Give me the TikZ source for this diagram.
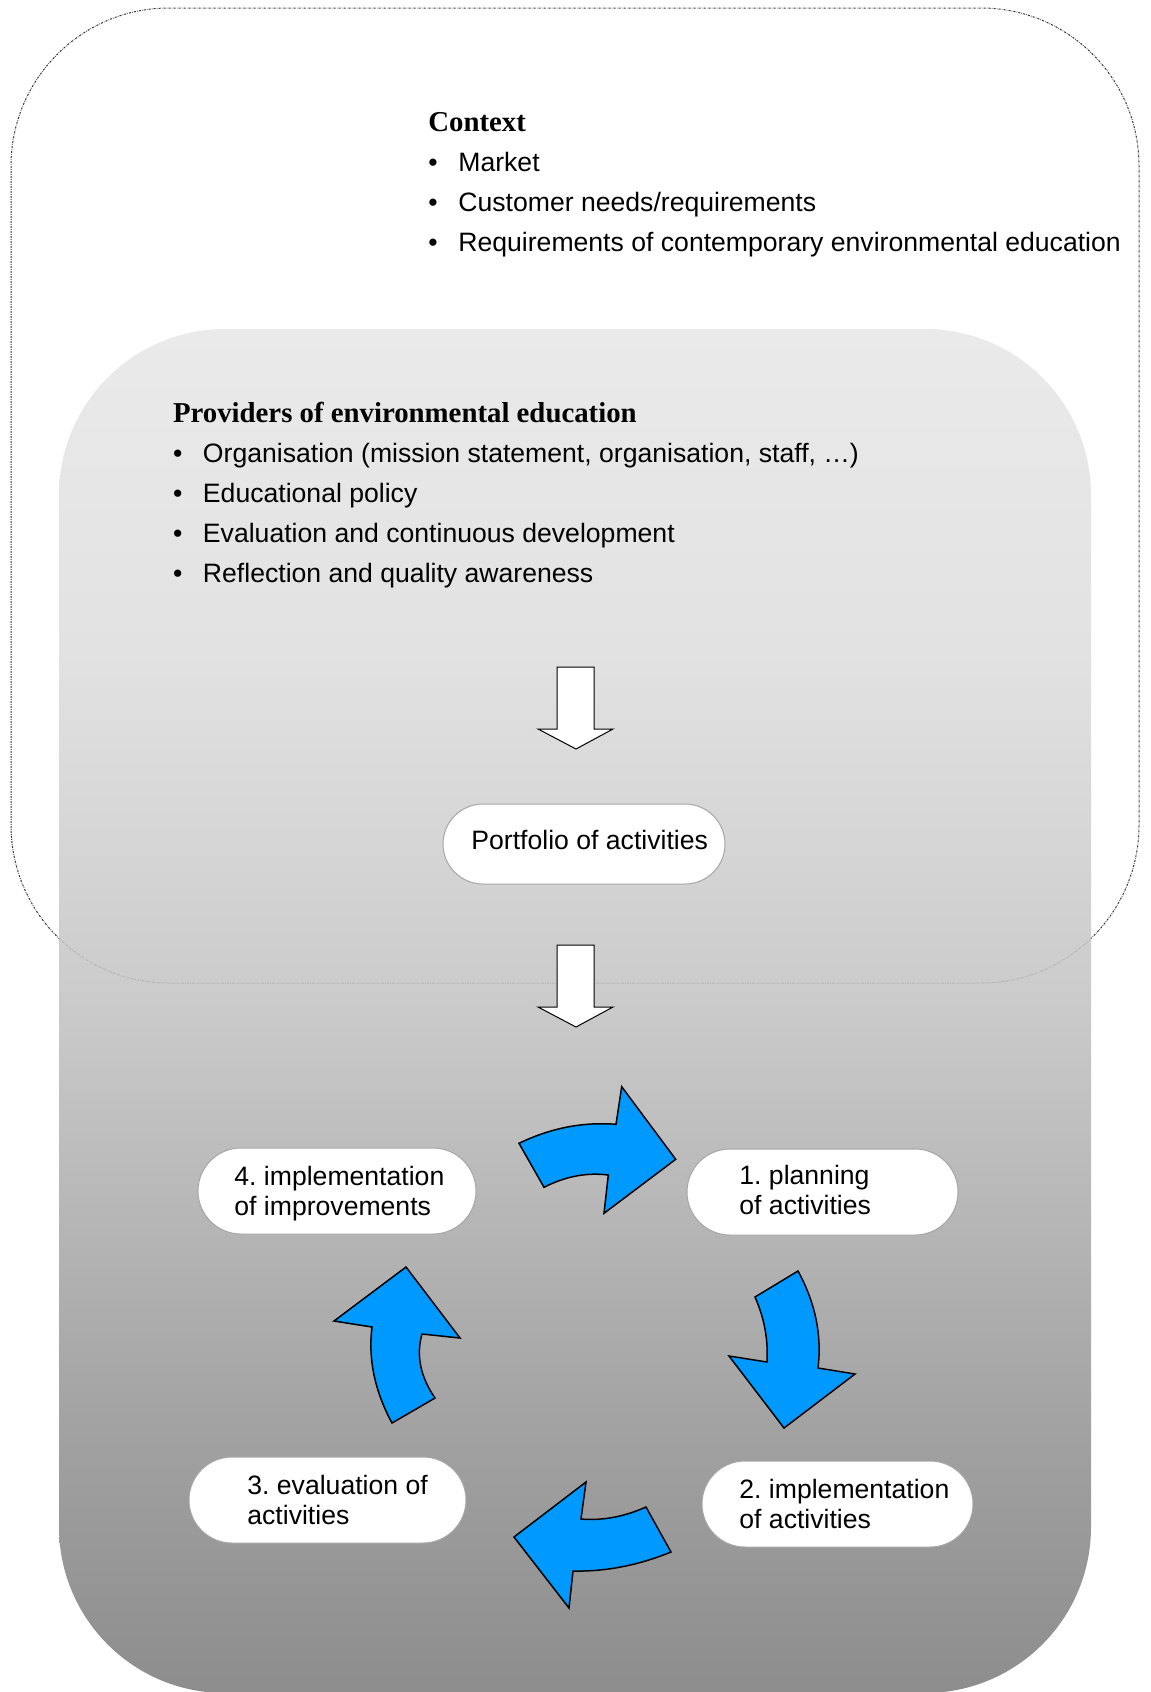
\documentclass[tikz,border=0pt]{standalone}
\usepackage{fontspec}
\setmainfont{Liberation Sans}
\newfontfamily\headfont{Liberation Serif}
\usetikzlibrary{shapes.misc}
\frenchspacing
\definecolor{gA}{RGB}{141,141,141}
\definecolor{gB}{RGB}{160,160,160}
\definecolor{gC}{RGB}{203,203,203}
\definecolor{gD}{RGB}{226,226,226}
\definecolor{gE}{RGB}{234,234,234}
\definecolor{arrowblue}{RGB}{0,153,255}
\definecolor{outlinedark}{RGB}{50,50,50}
\definecolor{outlinelight}{RGB}{178,178,178}
\pgfdeclareverticalshading{panelshade}{100bp}{color(0bp)=(gA); color(25bp)=(gA); color(33.9bp)=(gB); color(50.4bp)=(gC); color(63.2bp)=(gD); color(75bp)=(gE); color(100bp)=(gE)}
\newcommand{\twoline}[2]{\begin{tabular}[t]{@{}l@{}}#1\\#2\end{tabular}}
\newcommand{\bul}{\makebox[15pt][l]{\textbullet}}
\newcommand{\headtxt}[1]{{\headfont\bfseries\fontsize{14.4}{20}\selectfont #1}}
\tikzset{
  pill/.style={draw=black!35, line width=0.5pt, fill=white, rounded rectangle, inner sep=0pt},
  pilltext/.style={anchor=base west, inner sep=0pt, font=\fontsize{13.3}{15}\selectfont\frenchspacing},
  listtext/.style={anchor=base west, inner sep=0pt, font=\fontsize{13.3}{20}\selectfont\frenchspacing},
  cyclearrow/.style={draw=black, line width=0.75pt, fill=arrowblue, line join=miter},
  hollowarrow/.style={draw=black, line width=0.5pt, fill=white, line join=miter},
  outlinestyle/.style={line width=0.5pt, dash pattern=on 1pt off 0.6pt on 0.3pt off 0.6pt}
}
\begin{document}
\begin{tikzpicture}[x=0.5pt, y=-0.5pt]
\useasboundingbox (0,0) rectangle (1151,1692);
% outer dotted context frame
\draw[outlinestyle, draw=outlinedark, rounded corners=79pt] (11,8) rectangle (1139,983);
% provider panel
\path[shading=panelshade, rounded corners=83pt] (59,329) rectangle (1091,1693);
\begin{scope}
  \clip[rounded corners=83pt] (59,329) rectangle (1091,1693);
  \draw[outlinestyle, draw=outlinelight, rounded corners=79pt] (11,8) rectangle (1139,983);
\end{scope}
% texts
\node[listtext] (context) at (428,131.6) {\begin{tabular}[t]{@{}l@{}}
  \headtxt{Context}\\
  \bul Market\\
  \bul Customer needs/requirements\\
  \bul Requirements of contemporary environmental education
\end{tabular}};
\node[listtext] (providers) at (172.6,422.9) {\begin{tabular}[t]{@{}l@{}}
  \headtxt{Providers of environmental education}\\
  \bul Organisation (mission statement, organisation, staff, \dots)\\
  \bul Educational policy\\
  \bul Evaluation and continuous development\\
  \bul Reflection and quality awareness
\end{tabular}};
% hollow arrows
\draw[hollowarrow] (557,667) -- (594,667) -- (594,729) -- (613,729) -- (576,749) -- (538,729) -- (557,729) -- cycle;
\draw[hollowarrow] (557,945) -- (594,945) -- (594,1007) -- (613,1007) -- (576,1027) -- (538,1007) -- (557,1007) -- cycle;
% pills
\node[pill, minimum width=141pt, minimum height=40pt] (portfolio) at (584,844) {};
\node[pilltext] (portfoliotext) at (471,849) {Portfolio of activities};
\node[pill, minimum width=135.5pt, minimum height=43pt] (plan) at (822.5,1192) {};
\node[pilltext] (plantext) at (739,1184) {\twoline{1. planning}{of activities}};
\node[pill, minimum width=135.5pt, minimum height=43pt] (impl) at (837.5,1504) {};
\node[pilltext] (impltext) at (739,1498) {\twoline{2. implementation}{of activities}};
\node[pill, minimum width=138.5pt, minimum height=43pt] (eval) at (327.5,1500) {};
\node[pilltext] (evaltext) at (247,1494) {\twoline{3. evaluation of}{activities}};
\node[pill, minimum width=139pt, minimum height=43pt] (improve) at (337,1191) {};
\node[pilltext] (improvetext) at (234,1185) {\twoline{4. implementation}{of improvements}};
% cycle arrows
\draw[cyclearrow] (519,1143.3) -- (544,1187.3) .. controls (565.3,1176.3) and (586.7,1172.3) .. (608.3,1175)
  -- (604,1213.3) -- (675.7,1159.3) -- (621.7,1086.7) -- (616,1124.3)
  .. controls (583,1121.7) and (550.7,1128) .. cycle;
\draw[cyclearrow] (755,1297) -- (798,1271) .. controls (815.3,1302.7) and (822,1335) .. (818,1368)
  -- (855,1374) -- (784,1428) -- (729,1356) -- (767,1362)
  .. controls (768.3,1339.7) and (764.3,1318) .. cycle;
\draw[cyclearrow] (646,1507) .. controls (624,1516.8) and (602.3,1520.8) .. (581,1519)
  -- (586,1482) -- (514,1537) -- (569,1608) -- (573,1571)
  .. controls (605.7,1571.7) and (638.3,1565.3) .. (671,1552) -- cycle;
\draw[cyclearrow] (392,1423) -- (435,1398) .. controls (420.3,1376.7) and (416,1355.3) .. (422,1334)
  -- (460,1338) -- (406,1267) -- (334,1321) -- (372,1327)
  .. controls (368,1359) and (374.7,1391) .. cycle;
\end{tikzpicture}
\end{document}
